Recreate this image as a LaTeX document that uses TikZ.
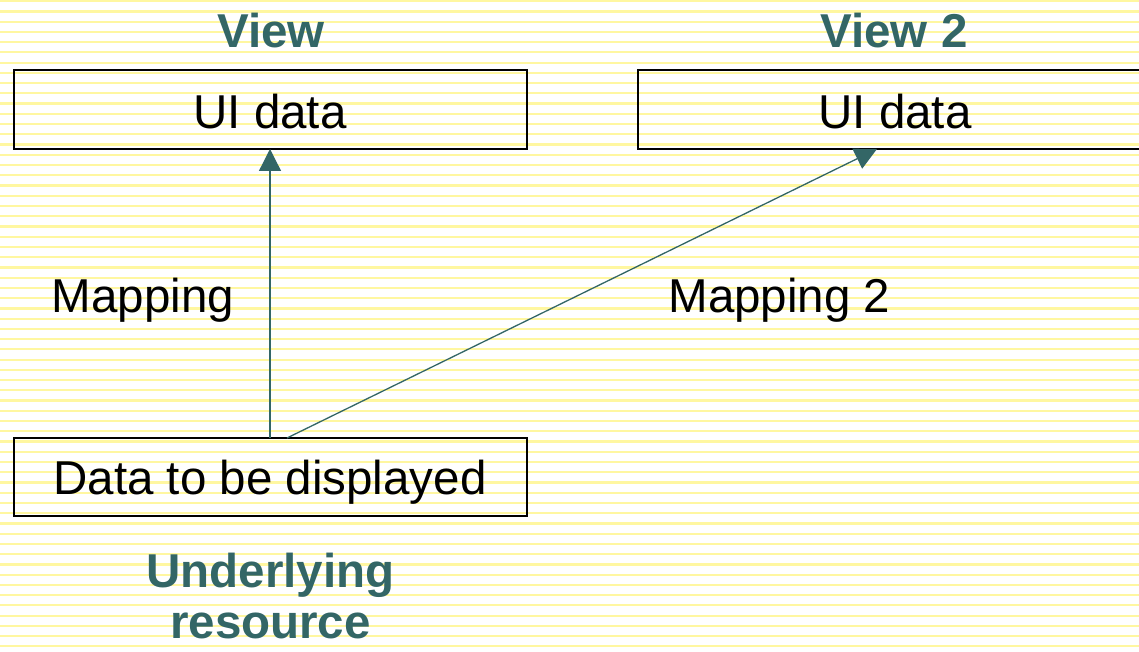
\documentclass[tikz,border=0pt]{standalone}
\usepackage{fontspec}
\setmainfont{Liberation Sans}
\usetikzlibrary{arrows.meta}
\definecolor{teal}{HTML}{336666}
\definecolor{stripe}{HTML}{FFF7A0}
\tikzset{
  box/.style={draw=black, line width=1.5pt, minimum width=513pt, inner sep=0pt, outer sep=0pt},
  lbl/.style={anchor=base, inner sep=0pt, font=\fontsize{47.5}{52}\selectfont},
  ttl/.style={anchor=base, inner sep=0pt, text=teal, font=\fontsize{47.5}{52}\selectfont\bfseries},
  arr/.style={draw=teal, line width=1.3pt, -{Triangle[length=22pt,width=22pt]}}
}
\begin{document}
\begin{tikzpicture}[x=1pt,y=-1pt]
\useasboundingbox (0,0) rectangle (1139,652);
\clip (0,0) rectangle (1139,652);
\fill[white] (0,0) rectangle (1139,652);
\foreach \i in {0,...,64} {
  \fill[stripe] (0,{1.2+\i*10.24-1.1}) rectangle (1139,{1.2+\i*10.24+1.1});
}
% boxes
\node[box, minimum height=79pt] (b1) at (270.5,109.5) {};
\node[box, minimum height=79pt] (b2) at (894.5,109.5) {};
\node[box, minimum height=78pt] (b3) at (270.5,477) {};
% texts
\node[lbl] (t1) at (270,128.5) {UI data};
\node[lbl] (t2) at (895,128.5) {UI data};
\node[lbl] (t3) at (270,494) {Data to be displayed};
\node[ttl] (v1) at (271,47.5) {View};
\node[ttl] (v2) at (894,47.5) {View 2};
\node[lbl] (m1) at (143,312.5) {Mapping};
\node[lbl] (m2) at (779.5,312.5) {Mapping 2};
\node[ttl] (u1) at (270.5,587.5) {Underlying};
\node[ttl] (u2) at (270.5,638) {resource};
% connectors
\draw[arr] (b3.north -| t1.south) -- (b1.south -| t1.south);
\draw[arr] ([xshift=16.5pt]b3.north) -- ([xshift=-17.5pt]b2.south);
\end{tikzpicture}
\end{document}
